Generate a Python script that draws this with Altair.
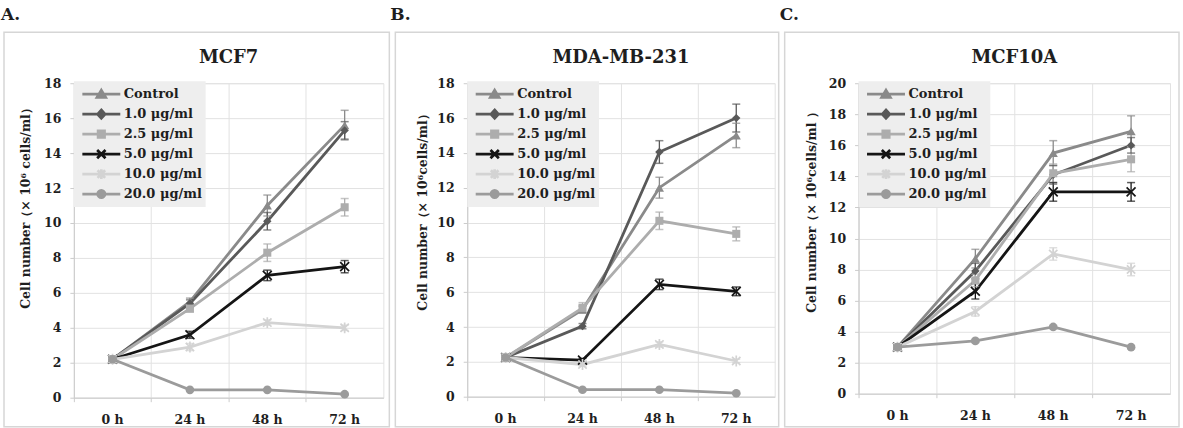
import math

import altair as alt
import pandas as pd

FONT = "DejaVu Serif"
TEXT = "#1e1e1e"
GRID = "#e2e2e2"
AXIS = "#cccccc"
FRAME = "#d6d6d6"

times = ["0 h", "24 h", "48 h", "72 h"]
series = ["Control", "1.0 μg/ml", "2.5 μg/ml", "5.0 μg/ml", "10.0 μg/ml", "20.0 μg/ml"]
colors = ["#8a8a8a", "#595959", "#adadad", "#151515", "#d3d3d3", "#9b9b9b"]

# MCF7: mean cell number (x10^6 cells/ml) and error per time point
mcf7_control = [2.2, 5.5, 11.0, 15.6]
mcf7_1_0 = [2.2, 5.4, 10.1, 15.3]
mcf7_2_5 = [2.2, 5.1, 8.3, 10.9]
mcf7_5_0 = [2.2, 3.6, 7.0, 7.5]
mcf7_10_0 = [2.2, 2.9, 4.3, 4.0]
mcf7_20_0 = [2.2, 0.45, 0.45, 0.2]
mcf7_control_err = [0.1, 0.2, 0.6, 0.85]
mcf7_1_0_err = [0.1, 0.2, 0.5, 0.5]
mcf7_2_5_err = [0.1, 0.2, 0.5, 0.5]
mcf7_5_0_err = [0.1, 0.2, 0.3, 0.35]
mcf7_10_0_err = [0.1, 0.2, 0.15, 0.15]
mcf7_20_0_err = [0.05, 0.05, 0.05, 0.05]

# MDA-MB-231
mda_control = [2.25, 5.0, 12.0, 15.0]
mda_1_0 = [2.25, 4.05, 14.05, 16.0]
mda_2_5 = [2.25, 5.1, 10.1, 9.35]
mda_5_0 = [2.25, 2.1, 6.45, 6.05]
mda_10_0 = [2.25, 1.85, 3.0, 2.05]
mda_20_0 = [2.25, 0.4, 0.4, 0.2]
mda_control_err = [0.1, 0.2, 0.6, 0.7]
mda_1_0_err = [0.1, 0.15, 0.65, 0.8]
mda_2_5_err = [0.1, 0.3, 0.5, 0.4]
mda_5_0_err = [0.1, 0.1, 0.3, 0.25]
mda_10_0_err = [0.1, 0.1, 0.15, 0.1]
mda_20_0_err = [0.05, 0.05, 0.05, 0.05]

# MCF10A
mcf10a_control = [3.0, 8.7, 15.5, 16.9]
mcf10a_1_0 = [3.0, 7.9, 14.1, 16.0]
mcf10a_2_5 = [3.0, 7.3, 14.2, 15.1]
mcf10a_5_0 = [3.0, 6.6, 13.0, 13.0]
mcf10a_10_0 = [3.0, 5.3, 9.0, 8.0]
mcf10a_20_0 = [3.0, 3.4, 4.3, 3.0]
mcf10a_control_err = [0.1, 0.6, 0.8, 1.0]
mcf10a_1_0_err = [0.1, 0.5, 0.6, 0.5]
mcf10a_2_5_err = [0.1, 0.4, 0.6, 0.8]
mcf10a_5_0_err = [0.1, 0.5, 0.6, 0.6]
mcf10a_10_0_err = [0.1, 0.3, 0.4, 0.4]
mcf10a_20_0_err = [0.1, 0.1, 0.1, 0.1]

# Marker glyphs: (shape, filled, size)
X_PATH = "M-1,-1L1,1M-1,1L1,-1"
STAR_PATH = "M-1,-1L1,1M-1,1L1,-1M0,-1.3L0,1.3"
markers = [
    ("triangle-up", True, 85),
    ("diamond", True, 70),
    ("square", True, 65),
    (X_PATH, False, 80),
    (STAR_PATH, False, 70),
    ("circle", True, 75),
]


# Legend glyphs: a line segment with the series marker in the middle
def _circle(r, n=16):
    pts = [(r * math.cos(2 * math.pi * k / n), r * math.sin(2 * math.pi * k / n)) for k in range(n)]
    return "M" + "L".join(f"{a:.3f},{b:.3f}" for a, b in pts) + "Z"


LINE = "M-1,0L1,0"
legend_glyphs = [
    LINE + "M0,-0.21L0.23,0.17L-0.23,0.17Z",
    LINE + "M0,-0.22L0.2,0L0,0.22L-0.2,0Z",
    LINE + "M-0.17,-0.17L0.17,-0.17L0.17,0.17L-0.17,0.17Z",
    LINE + "M-0.22,-0.22L0.22,0.22M-0.22,0.22L0.22,-0.22",
    LINE + "M-0.2,-0.2L0.2,0.2M-0.2,0.2L0.2,-0.2M0,-0.26L0,0.26",
    LINE + _circle(0.19),
]


def panel(tag, name, y_title, y_max, width, height, means, errs,
          title_x, title_y, frame, tag_x, canvas=False):
    rows = []
    for s, m_list, e_list in zip(series, means, errs):
        for t, m, e in zip(times, m_list, e_list):
            rows.append({"time": t, "series": s, "value": m,
                         "lo": round(m - e, 3), "hi": round(m + e, 3)})
    df = pd.DataFrame(rows)
    base = alt.Chart(df)

    x = alt.X(
        "time:N", sort=times, title=None,
        scale=alt.Scale(type="band", domain=times, paddingInner=0, paddingOuter=0),
        axis=alt.Axis(
            bandPosition=0, grid=True, gridColor=GRID,
            domainColor=AXIS, tickColor=AXIS, tickSize=4, labelPadding=12,
            labelAngle=0, labelFont=FONT, labelFontSize=12.5, labelFontWeight="bold",
            labelColor=TEXT,
        ),
    )

    def y(field):
        return alt.Y(
            f"{field}:Q", title=y_title,
            scale=alt.Scale(domain=[0, y_max], nice=False),
            axis=alt.Axis(
                values=list(range(0, y_max + 1, 2)), grid=True, gridColor=GRID,
                domainColor=AXIS, tickColor=AXIS, tickSize=4, labelPadding=9,
                labelFont=FONT, labelFontSize=12.5, labelFontWeight="bold", labelColor=TEXT,
                titleFont=FONT, titleFontSize=12.5, titleFontWeight="bold", titleColor=TEXT,
                titleX=title_x, titleY=title_y, titleAngle=270,
                titleAlign="center", titleBaseline="middle",
            ),
        )

    color = alt.Color("series:N", scale=alt.Scale(domain=series, range=colors), legend=None)

    legend = alt.Legend(
        title=None, orient="none", legendX=0, legendY=-2, fillColor="#eeeeee",
        padding=3, symbolSize=1444, symbolStrokeWidth=2.7, clipHeight=20,
        rowPadding=0, labelOffset=2, symbolOffset=4, symbolOpacity=1,
        labelFont=FONT, labelFontSize=13, labelFontWeight="bold", labelColor=TEXT,
    )

    layers = []
    one = pd.DataFrame({"t": [tag]})
    if canvas:
        layers.append(
            alt.Chart(one).mark_rect(fill="transparent").encode(
                x=alt.value(-73), x2=alt.value(1110), y=alt.value(-82), y2=alt.value(346)
            )
        )
    layers.append(
        alt.Chart(one).mark_rect(fill="transparent", stroke=FRAME, strokeWidth=1.5).encode(
            x=alt.value(frame[0]), x2=alt.value(frame[1]),
            y=alt.value(-51), y2=alt.value(344),
        )
    )
    # invisible layer that carries the legend (line + marker glyphs)
    layers.append(
        base.mark_point(filled=True, opacity=0).encode(
            x=x, y=y("value"),
            fill=alt.Fill("series:N", scale=alt.Scale(domain=series, range=colors), legend=legend),
            stroke=alt.Stroke("series:N", scale=alt.Scale(domain=series, range=colors), legend=legend),
            shape=alt.Shape("series:N", scale=alt.Scale(domain=series, range=legend_glyphs), legend=legend),
        )
    )
    layers.append(
        base.mark_line(strokeWidth=2.8).encode(x=x, y=y("value"), color=color, detail="series:N")
    )
    layers.append(
        base.mark_rule(strokeWidth=1.3).encode(x=x, y=y("lo"), y2="hi:Q", color=color)
    )
    for f in ("lo", "hi"):
        layers.append(
            base.mark_tick(size=8, thickness=1.5).encode(x=x, y=y(f), color=color)
        )
    for s, (shape, filled, size) in zip(series, markers):
        layers.append(
            base.mark_point(shape=shape, filled=filled, size=size, strokeWidth=1.7, opacity=1)
            .encode(x=x, y=y("value"), color=color)
            .transform_filter(alt.datum.series == s)
        )
    layers.append(
        alt.Chart(one).mark_text(
            align="left", baseline="alphabetic", font=FONT, fontSize=17,
            fontWeight="bold", color=TEXT,
        ).encode(text="t:N", x=alt.value(tag_x), y=alt.value(-63))
    )
    layers.append(
        alt.Chart(pd.DataFrame({"t": [name]})).mark_text(
            align="center", baseline="middle", font=FONT, fontSize=18,
            fontWeight="bold", color=TEXT,
        ).encode(text="t:N", x=alt.value(width / 2), y=alt.value(-25))
    )
    return alt.layer(*layers).properties(width=width, height=height)


pa = panel(
    "A.", "MCF7", "Cell number（× 10⁶ cells/ml）", 18, 310, 315,
    [mcf7_control, mcf7_1_0, mcf7_2_5, mcf7_5_0, mcf7_10_0, mcf7_20_0],
    [mcf7_control_err, mcf7_1_0_err, mcf7_2_5_err, mcf7_5_0_err, mcf7_10_0_err, mcf7_20_0_err],
    -48, 122, (-70, 316), -73, canvas=True,
)
pb = panel(
    "B.", "MDA-MB-231", "Cell number（× 10⁶cells/ml）", 18, 308, 314,
    [mda_control, mda_1_0, mda_2_5, mda_5_0, mda_10_0, mda_20_0],
    [mda_control_err, mda_1_0_err, mda_2_5_err, mda_5_0_err, mda_10_0_err, mda_20_0_err],
    -45, 126, (-72, 312), -77,
)
pc = panel(
    "C.", "MCF10A", "Cell number（× 10⁶cells/ml ）", 20, 312, 311,
    [mcf10a_control, mcf10a_1_0, mcf10a_2_5, mcf10a_5_0, mcf10a_10_0, mcf10a_20_0],
    [mcf10a_control_err, mcf10a_1_0_err, mcf10a_2_5_err, mcf10a_5_0_err, mcf10a_10_0_err, mcf10a_20_0_err],
    -47, 126, (-74, 321), -79,
)

chart = (
    alt.hconcat(pa, pb, pc, spacing=84, bounds="flush")
    .resolve_scale(color="independent", fill="independent", stroke="independent", shape="independent")
    .properties(padding=0, background="white")
    .configure_view(stroke=GRID, strokeWidth=1)
)

chart.save("out.html", embed_options={"renderer": "svg", "actions": False})
